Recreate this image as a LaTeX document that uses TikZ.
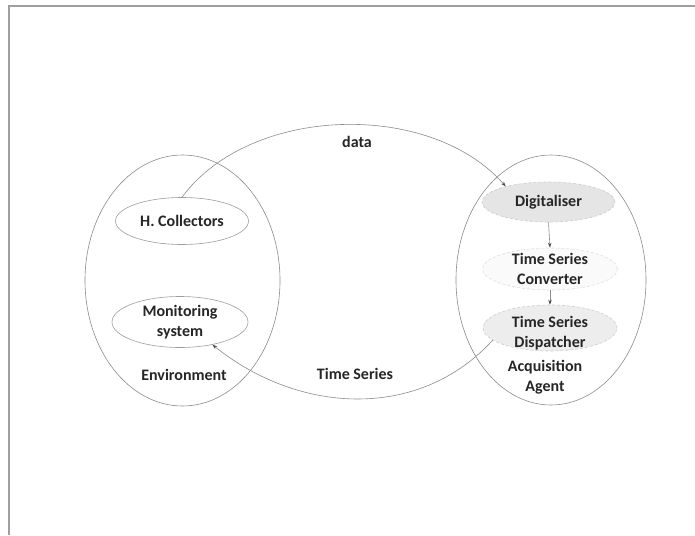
\documentclass[tikz,border=0pt]{standalone}
\usepackage{fontspec}
\setmainfont{Carlito}
\usetikzlibrary{shapes.geometric,arrows.meta}
\definecolor{linegray}{gray}{0.55}
\tikzset{
  bigell/.style={draw=linegray, line width=0.6pt, ellipse, inner sep=0pt},
  smallell/.style={draw=linegray!85, line width=0.6pt, ellipse, inner sep=0pt, fill=white},
  lbl/.style={font=\fontsize{16}{20}\selectfont\bfseries, align=center, inner sep=0pt, text=black!85},
  conn/.style={draw=linegray, line width=0.6pt, -{Stealth[length=5pt,width=3.5pt,color=black!70]}},
}
\begin{document}
\begin{tikzpicture}[x=1pt,y=-1pt]
\useasboundingbox (0,0) rectangle (695,535);
\fill[white] (0,0) rectangle (695,535);
% frame
\draw[gray!75, line width=1.3pt] (9,535) -- (9,6) -- (695,6);

% big ellipses
\node[bigell, minimum width=195pt, minimum height=251pt] (env) at (182.5,280.5) {};
\node[bigell, minimum width=190pt, minimum height=250pt] (acq) at (551,280) {};

% inner ellipses
\node[smallell, minimum width=133pt, minimum height=47pt,
      label={[lbl]center:H. Collectors}] (hc) at (182,221) {};
\node[smallell, minimum width=136pt, minimum height=51pt,
      label={[lbl]center:Monitoring\\system}] (mon) at (180,322) {};
\node[smallell, draw=gray!40, densely dashed, fill=gray!20, minimum width=133pt, minimum height=40pt,
      label={[lbl]center:Digitaliser}] (dig) at (548.5,202) {};
\node[smallell, draw=gray!25, densely dashed, fill=gray!4, minimum width=135pt, minimum height=42pt,
      label={[lbl]center:Time Series\\Converter}] (conv) at (550,269) {};
\node[smallell, draw=gray!40, densely dashed, fill=gray!14, minimum width=134pt, minimum height=46pt,
      label={[lbl,yshift=-5pt]center:Time Series\\Dispatcher}] (disp) at (550,328) {};

% labels
\node[lbl] (envlbl) at (184,375) {Environment};
\node[lbl] (acqlbl) at (545,377) {Acquisition\\Agent};
\node[lbl] (datalbl) at (357,142) {data};
\node[lbl] (tslbl) at (355,374) {Time Series};

% connectors
\draw[conn] (hc.north) .. controls (250,105) and (430,100) .. (dig.160);
\draw[conn] (disp.192) .. controls (420,420) and (300,415) .. (mon.-35);
\draw[conn] (dig.south) -- (conv.north);
\draw[conn] (conv.south) -- (disp.north);
\end{tikzpicture}
\end{document}
